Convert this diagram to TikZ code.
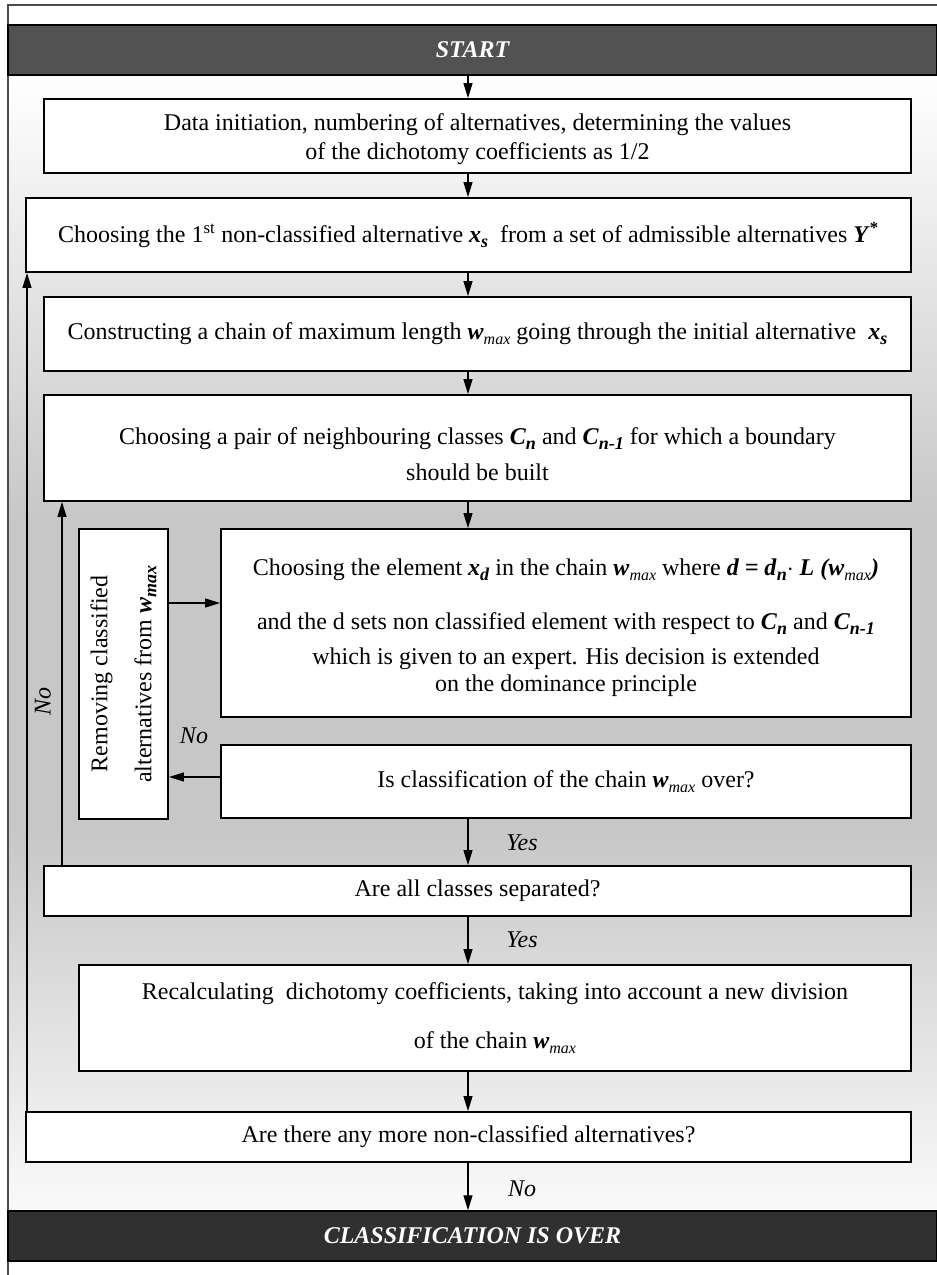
\documentclass[tikz,border=0pt]{standalone}
\usepackage{fontspec}
\setmainfont{Liberation Serif}
\usetikzlibrary{arrows.meta,calc}
\newcommand\bi[1]{\textbf{\textit{#1}}}
\newcommand\lsub[1]{\raisebox{-0.45ex}{\fontsize{18}{18}\selectfont\bi{#1}}}
\newcommand\msub{\raisebox{-0.45ex}{\fontsize{16}{16}\selectfont\textit{max}}}
\newcommand\dnshift[2]{\raisebox{-#1}[\height][\depth]{\begin{tabular}{@{}c@{}}#2\end{tabular}}}
\begin{document}
\begin{tikzpicture}[x=1pt,y=-1pt,
  box/.style={draw=black, line width=1.8pt, fill=white, inner sep=0pt, align=center, font=\fontsize{24}{28}\selectfont},
  bar/.style={draw=black, line width=1.4pt, inner sep=0pt, text=white, font=\fontsize{24}{28}\selectfont\bfseries\itshape},
  arr/.style={line width=1.1pt, -{Triangle[length=15pt,width=9pt]}},
  lab/.style={font=\fontsize{24}{28}\selectfont\itshape, inner sep=0pt},
]
\useasboundingbox (0,0) rectangle (937,1275);
% background gradient
\shade[top color=white, bottom color=black!22] (8,75) rectangle (937,520);
\fill[black!22] (8,519) rectangle (937,831);
\shade[top color=black!22, bottom color=black!2] (8,830) rectangle (937,1211);
% frame
\draw[line width=1.2pt, black!70] (937,5) -- (8,5) -- (8,1275);
% bars
\node[bar, fill=black!68, minimum width=929pt, minimum height=50pt] (start) at (472.5,50) {START};
\node[bar, fill=black!81, minimum width=929pt, minimum height=50pt] (end) at (472.5,1236) {CLASSIFICATION IS OVER};
% boxes
\node[box, minimum width=867pt, minimum height=74pt] (b1) at (477.5,136)
  {\dnshift{3pt}{Data initiation, numbering of alternatives, determining the values\\[1pt] of the dichotomy coefficients as 1/2}};
\node[box, minimum width=885pt, minimum height=74pt] (b2) at (468.5,235)
  {Choosing the 1\textsuperscript{st} non-classified alternative \bi{x}\lsub{s}~ from a set of admissible alternatives \bi{Y}\textsuperscript{\bfseries *}};
\node[box, minimum width=867pt, minimum height=74pt] (b3) at (477.5,334)
  {Constructing a chain of maximum length \bi{w}\msub{} going through the initial alternative~ \bi{x}\lsub{s}};
\node[box, minimum width=867pt, minimum height=106pt] (b4) at (477.5,448)
  {\dnshift{9pt}{Choosing a pair of neighbouring classes \bi{C}\lsub{n} and \bi{C}\lsub{n-1} for which a boundary\\[8pt] should be built}};
\node[box, rotate=90, minimum width=290pt, minimum height=89pt] (b5) at (123.5,674)
  {Removing classified\\[16pt] alternatives from \bi{w}\lsub{max}};
\node[box, minimum width=690pt, minimum height=188pt] (b6) at (566,623)
  {\dnshift{5pt}{Choosing the element \bi{x}\lsub{d} in the chain \bi{w}\msub{} where \bi{d = d}\lsub{n}\bi{$\cdot$ L (w}\msub\bi{)}\\[26pt]
   and the d sets non classified element with respect to \bi{C}\lsub{n} and \bi{C}\lsub{n-1}\\[7pt]
   which is given to an expert. His decision is extended\\[-1pt]
   on the dominance principle}};
\node[box, minimum width=690pt, minimum height=73pt] (b7) at (566,781.5)
  {Is classification of the chain \bi{w}\msub{} over?};
\node[box, minimum width=867pt, minimum height=50pt] (b8) at (477.5,891)
  {Are all classes separated?};
\node[box, minimum width=832pt, minimum height=106pt] (b9) at (495,1018)
  {Recalculating~ dichotomy coefficients, taking into account a new division\\[21pt] of the chain \bi{w}\msub};
\node[box, minimum width=885pt, minimum height=50pt] (b10) at (468.5,1137)
  {Are there any more non-classified alternatives?};
% helper coordinates
\coordinate (ax) at (468,0);
\coordinate (lx1) at (62,0);
\coordinate (lx2) at (27,0);
\coordinate (ay1) at (0,603);
\coordinate (ay2) at (0,777);
% connectors
\draw[arr] (start.south -| ax) -- (b1.north -| ax);
\draw[arr] (b1.south -| ax) -- (b2.north -| ax);
\draw[arr] (b2.south -| ax) -- (b3.north -| ax);
\draw[arr] (b3.south -| ax) -- (b4.north -| ax);
\draw[arr] (b4.south -| ax) -- (b6.north -| ax);
\draw[arr] (b5.south |- ay1) -- (b6.west |- ay1);
\draw[arr] (b7.west |- ay2) -- (b5.south |- ay2);
\draw[arr] (b7.south -| ax) -- (b8.north -| ax);
\draw[arr] (b8.south -| ax) -- (b9.north -| ax);
\draw[arr] (b9.south -| ax) -- (b10.north -| ax);
\draw[arr] (b10.south -| ax) -- (end.north -| ax);
\draw[arr] (b8.north -| lx1) -- (b4.south -| lx1);
\draw[arr] (b10.north -| lx2) -- (b2.south -| lx2);
% labels
\node[lab] (yes1) at (522,843) {Yes};
\node[lab] (yes2) at (522,940) {Yes};
\node[lab] (no1) at (522,1189) {No};
\node[lab] (no2) at (194,736) {No};
\node[lab, rotate=90] (no3) at (43,701) {No};
\end{tikzpicture}
\end{document}
